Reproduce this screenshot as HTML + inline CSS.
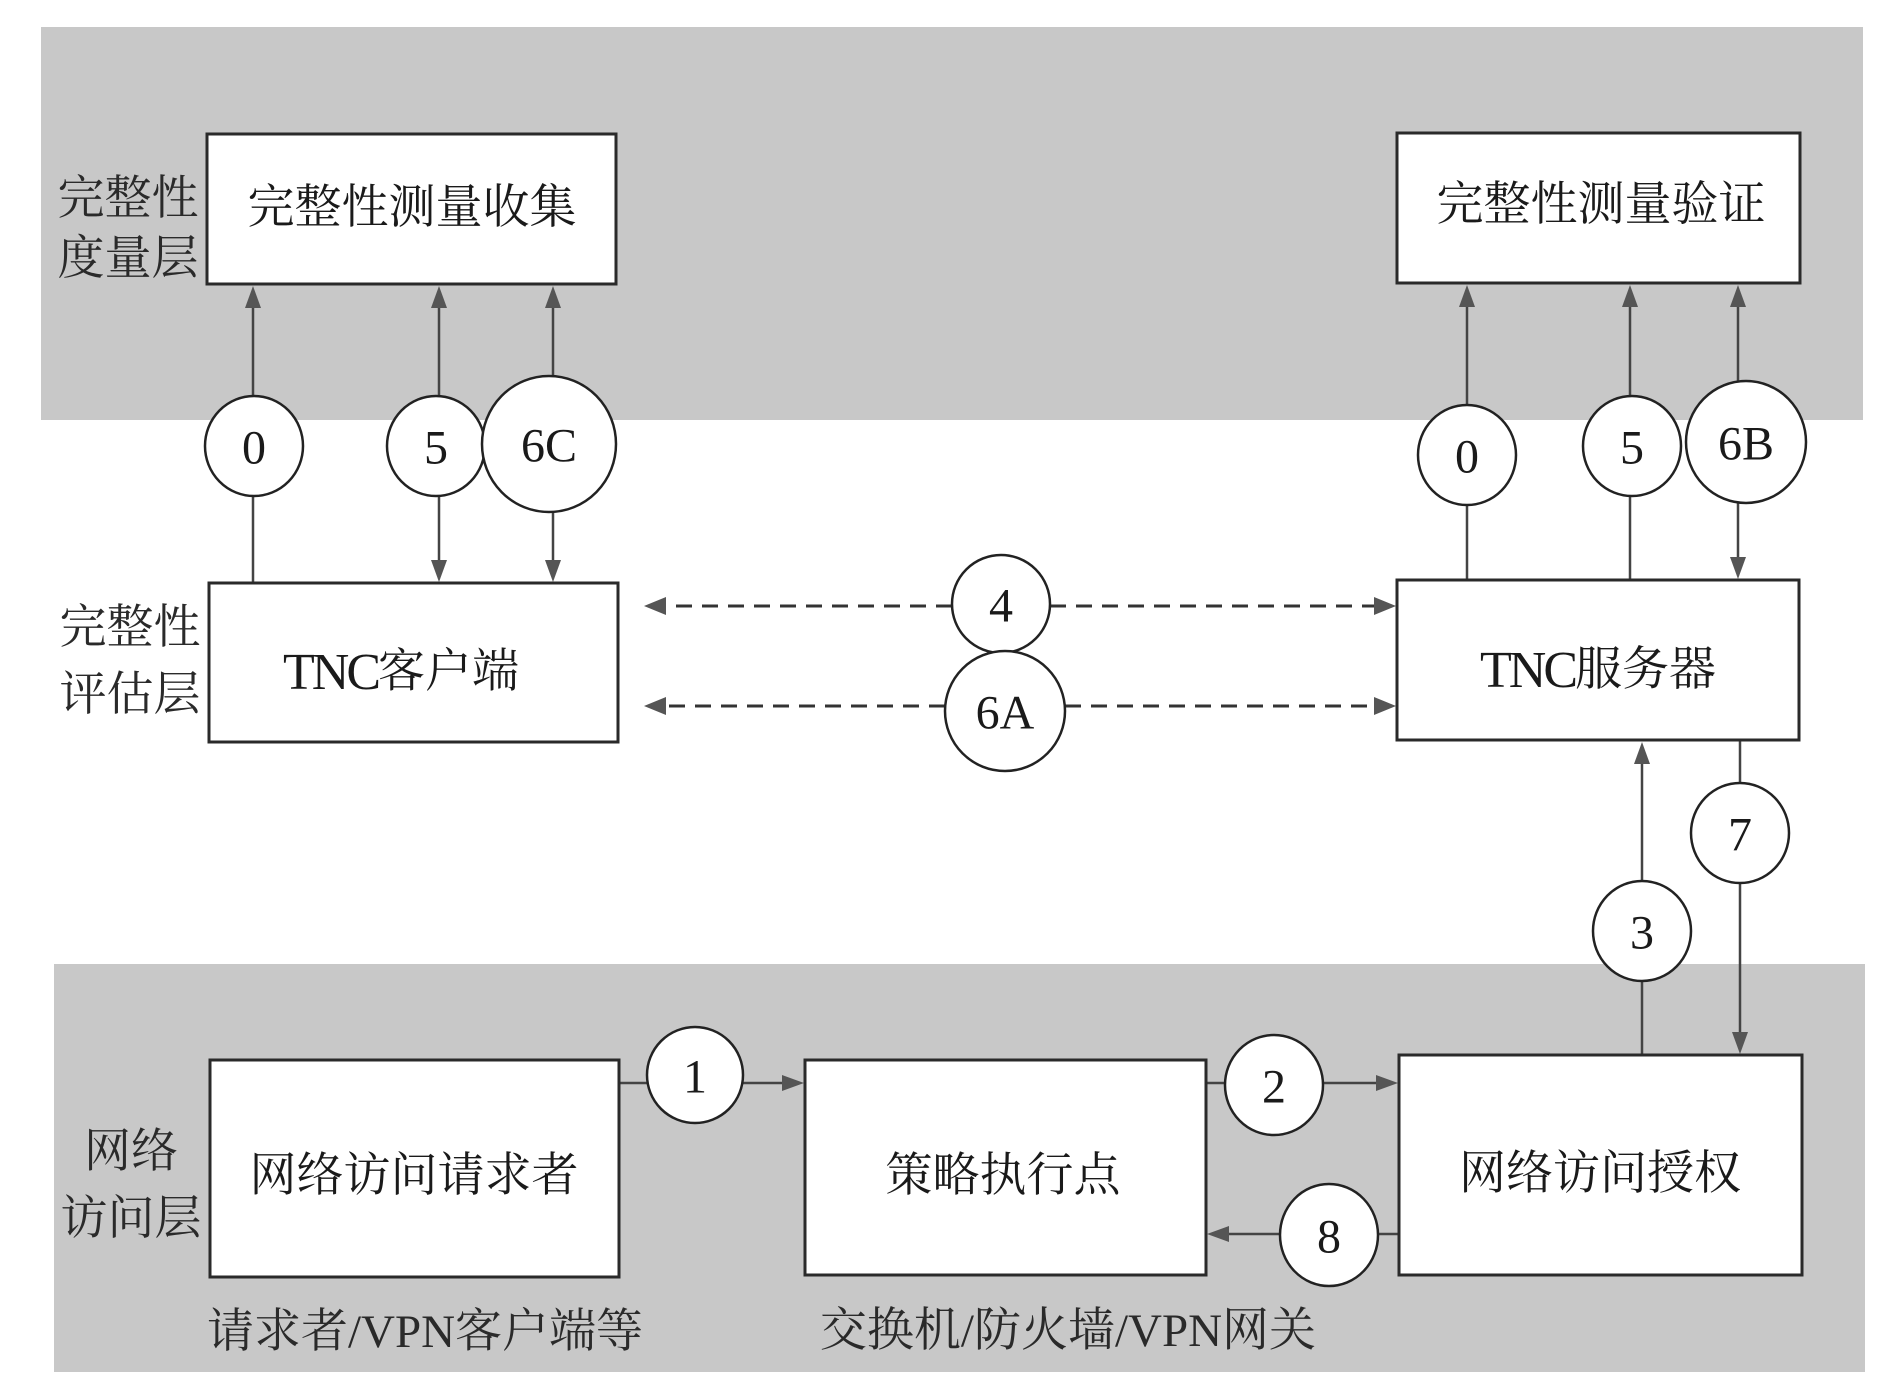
<!DOCTYPE html>
<html>
<head>
<meta charset="utf-8">
<style>
  html,body{margin:0;padding:0;background:#fff;}
  svg{display:block;}
  .cj{font-family:"Liberation Serif","Noto Serif CJK SC","Noto Sans CJK SC",serif;}
  .num{font-family:"Liberation Serif",serif;}
</style>
</head>
<body>
<svg width="1891" height="1395" viewBox="0 0 1891 1395" xmlns="http://www.w3.org/2000/svg">
  <!-- gray layer bands -->
  <rect x="41" y="27" width="1822" height="393" fill="#c8c8c8"/>
  <rect x="54" y="964" width="1811" height="408" fill="#c8c8c8"/>

  <!-- connector lines -->
  <g stroke="#444" stroke-width="2.5" fill="none">
    <!-- left top -->
    <line x1="253" y1="396" x2="253" y2="300"/>
    <line x1="253" y1="496" x2="253" y2="583"/>
    <line x1="439" y1="397" x2="439" y2="300"/>
    <line x1="439" y1="496" x2="439" y2="565"/>
    <line x1="553" y1="377" x2="553" y2="300"/>
    <line x1="553" y1="511" x2="553" y2="565"/>
    <!-- right top -->
    <line x1="1467" y1="406" x2="1467" y2="300"/>
    <line x1="1467" y1="504" x2="1467" y2="580"/>
    <line x1="1630" y1="397" x2="1630" y2="300"/>
    <line x1="1630" y1="495" x2="1630" y2="580"/>
    <line x1="1738" y1="382" x2="1738" y2="300"/>
    <line x1="1738" y1="502" x2="1738" y2="562"/>
    <!-- 3 and 7 -->
    <line x1="1642" y1="882" x2="1642" y2="758"/>
    <line x1="1642" y1="980" x2="1642" y2="1055"/>
    <line x1="1740" y1="740" x2="1740" y2="784"/>
    <line x1="1740" y1="882" x2="1740" y2="1038"/>
    <!-- bottom horizontals -->
    <line x1="619" y1="1083" x2="647" y2="1083"/>
    <line x1="743" y1="1083" x2="788" y2="1083"/>
    <line x1="1206" y1="1083" x2="1225" y2="1083"/>
    <line x1="1323" y1="1083" x2="1382" y2="1083"/>
    <line x1="1399" y1="1234" x2="1378" y2="1234"/>
    <line x1="1280" y1="1234" x2="1224" y2="1234"/>
  </g>
  <!-- dashed -->
  <g stroke="#333" stroke-width="3" fill="none" stroke-dasharray="16 10">
    <line x1="952" y1="606" x2="662" y2="606"/>
    <line x1="1050" y1="606" x2="1378" y2="606"/>
    <line x1="945" y1="706" x2="662" y2="706"/>
    <line x1="1065" y1="706" x2="1378" y2="706"/>
  </g>

  <!-- arrowheads -->
  <g fill="#555">
    <polygon points="253,286 245,308 261,308"/>
    <polygon points="439,286 431,308 447,308"/>
    <polygon points="553,286 545,308 561,308"/>
    <polygon points="439,582 431,560 447,560"/>
    <polygon points="553,582 545,560 561,560"/>
    <polygon points="1467,285 1459,307 1475,307"/>
    <polygon points="1630,285 1622,307 1638,307"/>
    <polygon points="1738,285 1730,307 1746,307"/>
    <polygon points="1738,579 1730,557 1746,557"/>
    <polygon points="1642,742 1634,764 1650,764"/>
    <polygon points="1740,1054 1732,1032 1748,1032"/>
    <polygon points="804,1083 782,1075 782,1091"/>
    <polygon points="1398,1083 1376,1075 1376,1091"/>
    <polygon points="1207,1234 1229,1226 1229,1242"/>
    <polygon points="644,606 666,597 666,615"/>
    <polygon points="1396,606 1374,597 1374,615"/>
    <polygon points="644,706 666,697 666,715"/>
    <polygon points="1396,706 1374,697 1374,715"/>
  </g>

  <!-- boxes -->
  <g fill="#fff" stroke="#2a2a2a" stroke-width="3">
    <rect x="207" y="134" width="409" height="150"/>
    <rect x="1397" y="133" width="403" height="150"/>
    <rect x="209" y="583" width="409" height="159"/>
    <rect x="1397" y="580" width="402" height="160"/>
    <rect x="210" y="1060" width="409" height="217"/>
    <rect x="805" y="1060" width="401" height="215"/>
    <rect x="1399" y="1055" width="403" height="220"/>
  </g>

  <!-- circles -->
  <g fill="#fff" stroke="#222" stroke-width="2.5">
    <ellipse cx="254" cy="446" rx="49" ry="50"/>
    <ellipse cx="436" cy="446" rx="49" ry="50"/>
    <ellipse cx="549" cy="444" rx="67" ry="68"/>
    <ellipse cx="1467" cy="455" rx="49" ry="50"/>
    <ellipse cx="1632" cy="446" rx="49" ry="50"/>
    <ellipse cx="1746" cy="442" rx="60" ry="61"/>
    <ellipse cx="1001" cy="604" rx="49" ry="49"/>
    <ellipse cx="1005" cy="711" rx="60" ry="60"/>
    <ellipse cx="1642" cy="931" rx="49" ry="50"/>
    <ellipse cx="1740" cy="833" rx="49" ry="50"/>
    <ellipse cx="695" cy="1075" rx="48" ry="48"/>
    <ellipse cx="1274" cy="1085" rx="49" ry="50"/>
    <ellipse cx="1329" cy="1235" rx="49" ry="51"/>
  </g>

  <!-- circle labels -->
  <g class="num" font-size="48" fill="#1a1a1a" text-anchor="middle" dominant-baseline="central">
    <text x="254" y="448">0</text>
    <text x="436" y="448">5</text>
    <text x="549" y="446">6C</text>
    <text x="1467" y="457">0</text>
    <text x="1632" y="448">5</text>
    <text x="1746" y="444">6B</text>
    <text x="1001" y="606">4</text>
    <text x="1005" y="713">6A</text>
    <text x="1642" y="933">3</text>
    <text x="1740" y="835">7</text>
    <text x="695" y="1077">1</text>
    <text x="1274" y="1087">2</text>
    <text x="1329" y="1237">8</text>
  </g>

  <!-- box labels -->
  <g class="cj" font-size="47" fill="#1a1a1a" text-anchor="middle" dominant-baseline="central">
    <text x="412" y="208">完整性测量收集</text>
    <text x="1601" y="205">完整性测量验证</text>
    <text x="401" y="672"><tspan font-size="52" letter-spacing="-3">TNC</tspan>客户端</text>
    <text x="1598" y="670"><tspan font-size="52" letter-spacing="-3">TNC</tspan>服务器</text>
    <text x="414" y="1176">网络访问请求者</text>
    <text x="1003" y="1176">策略执行点</text>
    <text x="1600" y="1174">网络访问授权</text>
  </g>

  <!-- layer labels -->
  <g class="cj" font-size="47" fill="#2a2a2a" text-anchor="middle" dominant-baseline="central">
    <text x="128" y="199">完整性</text>
    <text x="128" y="259">度量层</text>
    <text x="130" y="628">完整性</text>
    <text x="130" y="695">评估层</text>
    <text x="131" y="1152">网络</text>
    <text x="131" y="1219">访问层</text>
    <text x="425" y="1332">请求者/VPN客户端等</text>
    <text x="1068" y="1331">交换机/防火墙/VPN网关</text>
  </g>
</svg>
</body>
</html>
